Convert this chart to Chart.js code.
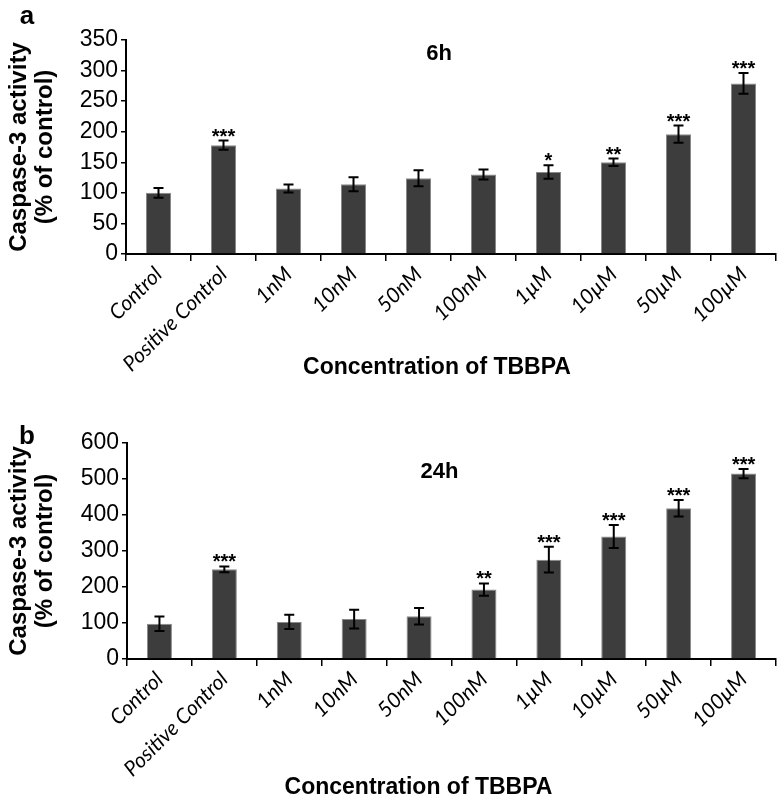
<!DOCTYPE html>
<html lang="en">
<head>
  <meta charset="UTF-8">
  <title>Caspase-3 activity - TBBPA</title>
  <script src="https://cdn.jsdelivr.net/npm/chart.js"></script>
  <style>
    body {
      margin: 0;
      background: #fff;
    }
    canvas {
      display: block;
    }
  </style>
</head>
<body>

  <canvas id="chart-6h" width="777" height="400"></canvas>
  <canvas id="chart-24h" width="777" height="402"></canvas>

  <script>
    // categories
    const concentrations = ['Control', 'Positive Control', '1nM', '10nM', '50nM', '100nM', '1µM', '10µM', '50µM', '100µM'];

    // panel a: 6h
    const activity6h = [100, 178, 107, 114, 124, 130, 134, 150, 196, 279];
    const error6h = [8, 7.5, 6.5, 11.5, 13, 8, 11, 6, 14, 17];
    const stars6h = ['', '***', '', '', '', '', '*', '**', '***', '***'];

    // panel b: 24h
    const activity24h = [98, 249, 103, 111, 119, 193, 276, 340, 419, 515];
    const error24h = [20, 8, 20, 26, 23, 17, 36, 32, 23, 13];
    const stars24h = ['', '***', '', '', '', '**', '***', '***', '***', '***'];

    const xTitle = 'Concentration of TBBPA';
    const sans = "'Liberation Sans', Arial, sans-serif";

    // error bars, significance stars, panel letter, time label, x title
    const errorBars = {
      id: 'errorBars',
      afterDatasetsDraw(chart, args, opts) {
        const ctx = chart.ctx;
        const yScale = chart.scales.y;
        const meta = chart.getDatasetMeta(0);
        const values = chart.data.datasets[0].data;
        ctx.save();
        ctx.strokeStyle = '#000';
        ctx.lineWidth = 2;
        ctx.fillStyle = '#000';
        ctx.font = 'bold 20px ' + sans;
        ctx.textAlign = 'center';
        ctx.textBaseline = 'alphabetic';
        opts.errors.forEach((e, i) => {
          const cx = meta.data[i].x;
          const top = yScale.getPixelForValue(values[i] + e);
          const bot = yScale.getPixelForValue(values[i] - e);
          ctx.beginPath();
          ctx.moveTo(cx, top); ctx.lineTo(cx, bot);
          ctx.moveTo(cx - 5, top); ctx.lineTo(cx + 5, top);
          ctx.moveTo(cx - 5, bot); ctx.lineTo(cx + 5, bot);
          ctx.stroke();
          if (opts.stars[i]) {
            ctx.fillText(opts.stars[i], cx, top + 2);
          }
        });
        const area = chart.chartArea;
        ctx.textBaseline = 'middle';
        ctx.font = 'bold 22px ' + sans;
        ctx.fillText(opts.time, (area.left + area.right) / 2 - 12, area.top + opts.timeDy);
        ctx.font = 'bold 26px ' + sans;
        ctx.fillText(opts.panel, 27, opts.panelY);
        ctx.font = 'bold 23px ' + sans;
        ctx.fillText(xTitle, (area.left + area.right) / 2 + opts.xTitleDx, opts.xTitleY);
        ctx.restore();
      }
    };

    function makeChart(canvasId, values, errors, stars, yMax, yStep, axisWidth, topPad, xHeight, extra) {
      return new Chart(document.getElementById(canvasId), {
        type: 'bar',
        data: {
          labels: concentrations,
          datasets: [{
            data: values,
            backgroundColor: '#3d3d3d',
            borderColor: '#8a8a8a',
            borderWidth: 1,
            barPercentage: 0.385,
            categoryPercentage: 1
          }]
        },
        options: {
          responsive: false,
          animation: false,
          devicePixelRatio: 1,
          layout: {
            padding: { top: topPad, right: 1, left: 0, bottom: 0 }
          },
          plugins: {
            legend: { display: false },
            tooltip: { enabled: false },
            errorBars: Object.assign({ errors: errors, stars: stars }, extra)
          },
          scales: {
            x: {
              afterFit(scale) { scale.height = xHeight; },
              grid: {
                drawOnChartArea: false,
                color: '#000',
                lineWidth: 1.5,
                tickLength: 7
              },
              border: { color: '#000', width: 2 },
              ticks: {
                autoSkip: false,
                maxRotation: 45,
                minRotation: 45,
                padding: 1,
                color: '#000',
                font: { family: "Lato, 'Open Sans', sans-serif", style: 'italic', size: 21 }
              }
            },
            y: {
              min: 0,
              max: yMax,
              afterFit(scale) { scale.width = axisWidth; },
              grid: {
                drawOnChartArea: false,
                color: '#000',
                lineWidth: 1.5,
                tickLength: 5
              },
              border: { color: '#000', width: 2 },
              ticks: {
                stepSize: yStep,
                autoSkip: false,
                padding: 3,
                color: '#000',
                font: { family: sans, size: 23, lineHeight: 1 }
              },
              title: {
                display: true,
                text: ['Caspase-3 activity', '(% of control)'],
                color: '#000',
                font: { family: sans, weight: 'bold', size: 24, lineHeight: 1.1 },
                padding: { top: 6, bottom: 0 }
              }
            }
          }
        },
        plugins: [errorBars]
      });
    }

    makeChart('chart-6h', activity6h, error6h, stars6h, 350, 50, 126, 40, 146,
      { panel: 'a', panelY: 17, time: '6h', timeDy: 14, xTitleDx: -14, xTitleY: 368 });
    makeChart('chart-24h', activity24h, error24h, stars24h, 600, 100, 127, 43, 143,
      { panel: 'b', panelY: 37, time: '24h', timeDy: 29, xTitleDx: -33, xTitleY: 388 });
  </script>

</body>
</html>
